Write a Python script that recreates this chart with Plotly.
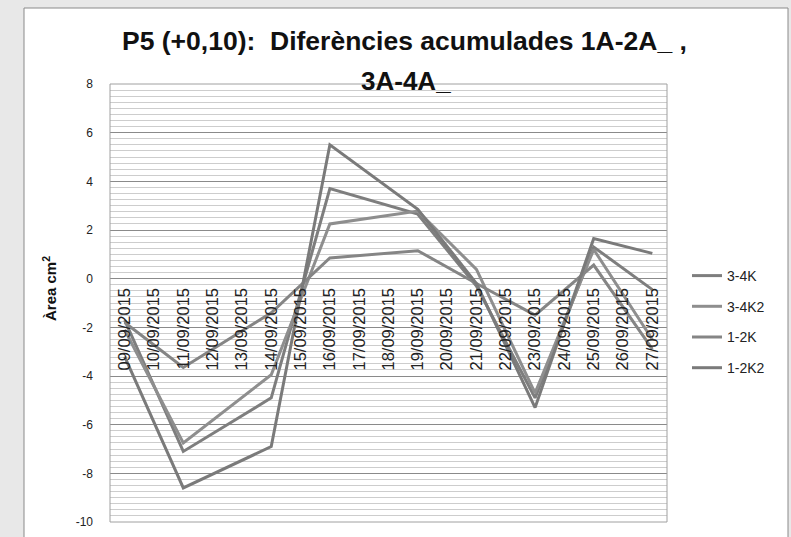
import plotly.graph_objects as go

dates = ["09/09/2015", "10/09/2015", "11/09/2015", "12/09/2015", "13/09/2015",
         "14/09/2015", "15/09/2015", "16/09/2015", "17/09/2015", "18/09/2015",
         "19/09/2015", "20/09/2015", "21/09/2015", "22/09/2015", "23/09/2015",
         "24/09/2015", "25/09/2015", "26/09/2015", "27/09/2015"]

s_34K = [-1.7, None, -7.1, None, None, -4.9, None, 3.7, None, None,
         2.65, None, -0.3, None, -4.9, None, 1.3, None, -0.45]
s_34K2 = [-2.1, None, -6.75, None, None, -3.95, None, 2.25, None, None,
          2.78, None, 0.38, None, -4.7, None, 1.2, None, -2.5]
s_12K = [-1.8, None, -3.65, None, None, -1.4, None, 0.85, None, None,
         1.15, None, -0.2, None, -1.5, None, 0.56, None, -2.9]
s_12K2 = [-3.2, None, -8.6, None, None, -6.9, None, 5.5, None, None,
          2.85, None, -0.2, None, -5.3, None, 1.65, None, 1.04]

series_names = ["3-4K", "3-4K2", "1-2K", "1-2K2"]
series_vals = [s_34K, s_34K2, s_12K, s_12K2]
series_colors = ["#7e7e7e", "#8e8e8e", "#858585", "#7a7a7a"]

y_tickvals = [-10, -8, -6, -4, -2, 0, 2, 4, 6, 8]
y_ticktext = ["-10", "-8", "-6", "-4", "-2", "0", "2", "4", "6", "8"]

title_line1 = "P5 (+0,10):  Diferències acumulades 1A-2A_ ,"
title_line2 = "3A-4A_"
y_title = "Àrea cm<sup>2</sup>"

W, H = 791, 537
ML, MR, MT, MB = 110, 124, 84, 15
PW, PH = W - ML - MR, H - MT - MB


def px_x(px):
    return (px - ML) / PW


def px_y(py):
    return (H - MB - py) / PH


fig = go.Figure()
for name, vals, col in zip(series_names, series_vals, series_colors):
    fig.add_trace(go.Scatter(
        x=dates, y=vals, name=name, mode="lines", connectgaps=True,
        line=dict(color=col, width=3), legendgroup=name,
    ))

zero_pos = (0 - (-10)) / 18.0

fig.update_layout(
    width=W, height=H,
    margin=dict(l=ML, r=MR, t=MT, b=MB, autoexpand=False),
    paper_bgcolor="#e8e8e8",
    plot_bgcolor="#ffffff",
    font=dict(family="Liberation Sans, Arial, sans-serif", color="#222222"),
    showlegend=True,
    legend=dict(
        x=px_x(687), y=px_y(260), xanchor="left", yanchor="top",
        bgcolor="rgba(0,0,0,0)", font=dict(size=14, color="#222222"),
        tracegroupgap=9.5, itemwidth=30,
    ),
    xaxis=dict(
        type="category", range=[-0.5, 18.5], anchor="free", position=zero_pos,
        showgrid=False, showline=False, zeroline=False, ticks="",
        tickangle=-90, tickfont=dict(size=16.5, color="#222222"),
        ticklabelstandoff=5, automargin=False,
    ),
    yaxis=dict(
        range=[-10, 8], tickvals=y_tickvals, ticktext=y_ticktext,
        showgrid=True, gridcolor="#8a8a8a", gridwidth=1, zeroline=False,
        showline=False, ticks="", ticklabelstandoff=16, automargin=False,
        tickfont=dict(size=12, color="#222222"),
        minor=dict(dtick=0.25, showgrid=True, gridcolor="#cdcdcd", gridwidth=1),
    ),
    shapes=[
        dict(type="rect", xref="paper", yref="paper", layer="below",
             x0=px_x(24), x1=px_x(788), y0=px_y(560), y1=px_y(8),
             fillcolor="#ffffff", line=dict(color="#8a8a8a", width=1)),
        dict(type="rect", xref="paper", yref="paper", layer="above",
             x0=0, x1=1, y0=0, y1=1,
             fillcolor="rgba(0,0,0,0)", line=dict(color="#a0a0a0", width=1)),
    ],
    annotations=[
        dict(text="<b>" + title_line1 + "</b>", xref="paper", yref="paper",
             x=px_x(404), y=px_y(41), xanchor="center", yanchor="middle",
             showarrow=False, font=dict(size=26.5, color="#111111")),
        dict(text="<b>" + title_line2 + "</b>", xref="paper", yref="paper",
             x=px_x(406), y=px_y(81), xanchor="center", yanchor="middle",
             showarrow=False, font=dict(size=26, color="#111111")),
        dict(text="<b>" + y_title + "</b>", xref="paper", yref="paper",
             x=px_x(49), y=px_y(289), xanchor="center", yanchor="middle",
             textangle=-90, showarrow=False, font=dict(size=15, color="#111111")),
    ],
)

fig.write_html("out.html", config={"displayModeBar": False},
               post_script="document.body.style.margin='0';")
